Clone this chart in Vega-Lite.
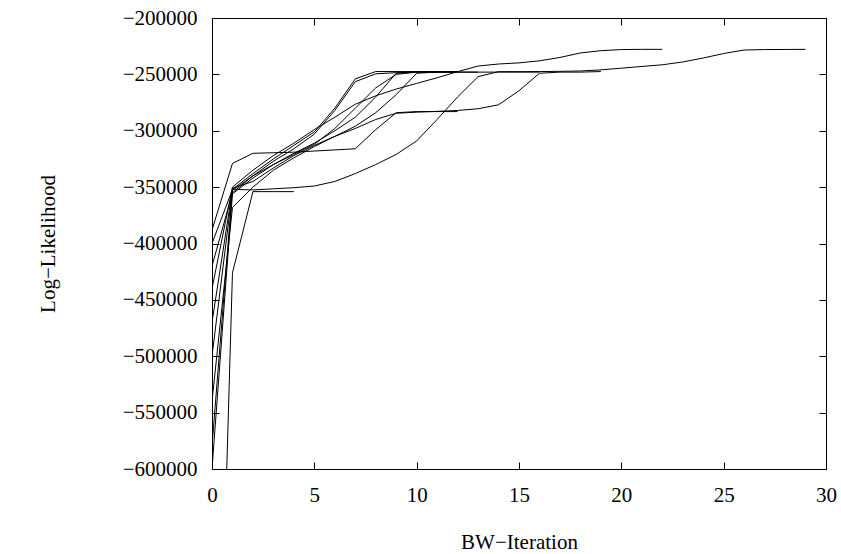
{
  "$schema": "https://vega.github.io/schema/vega-lite/v6.json",
  "autosize": {"type": "none"},
  "padding": {"left": 212, "top": 18, "right": 15, "bottom": 85},
  "width": 614,
  "height": 451,
  "background": "white",
  "config": {
    "view": {"stroke": "black", "strokeWidth": 1},
    "axis": {
      "domain": false, "grid": false, "tickColor": "black", "tickSize": -7, "labelFlush": false,
      "labelColor": "black", "labelFont": "Liberation Serif", "labelFontSize": 21,
      "titleFont": "Liberation Serif", "titleFontSize": 21, "titleFontWeight": "normal", "titleColor": "black"
    }
  },
  "datasets": {
    "runs": [
      {"s": "A", "x": 0, "v": -1050000}, {"s": "A", "x": 1, "v": -426000}, {"s": "A", "x": 2, "v": -354000}, {"s": "A", "x": 3, "v": -354000}, {"s": "A", "x": 4, "v": -354000},

      {"s": "T29", "x": 0, "v": -470000}, {"s": "T29", "x": 1, "v": -352000}, {"s": "T29", "x": 2, "v": -352500}, {"s": "T29", "x": 3, "v": -351500}, {"s": "T29", "x": 4, "v": -350500}, {"s": "T29", "x": 5, "v": -349000}, {"s": "T29", "x": 6, "v": -345000}, {"s": "T29", "x": 7, "v": -338000}, {"s": "T29", "x": 8, "v": -330000}, {"s": "T29", "x": 9, "v": -321000}, {"s": "T29", "x": 10, "v": -309000}, {"s": "T29", "x": 11, "v": -290000}, {"s": "T29", "x": 12, "v": -270000}, {"s": "T29", "x": 13, "v": -252000}, {"s": "T29", "x": 14, "v": -247600}, {"s": "T29", "x": 15, "v": -247600}, {"s": "T29", "x": 16, "v": -247500}, {"s": "T29", "x": 17, "v": -247300}, {"s": "T29", "x": 18, "v": -247000}, {"s": "T29", "x": 19, "v": -246000}, {"s": "T29", "x": 20, "v": -244500}, {"s": "T29", "x": 21, "v": -243000}, {"s": "T29", "x": 22, "v": -241500}, {"s": "T29", "x": 23, "v": -239000}, {"s": "T29", "x": 24, "v": -235500}, {"s": "T29", "x": 25, "v": -231500}, {"s": "T29", "x": 26, "v": -228400}, {"s": "T29", "x": 27, "v": -228000}, {"s": "T29", "x": 28, "v": -227900}, {"s": "T29", "x": 29, "v": -227800},

      {"s": "T22", "x": 0, "v": -440000}, {"s": "T22", "x": 1, "v": -350000}, {"s": "T22", "x": 2, "v": -335000}, {"s": "T22", "x": 3, "v": -322000}, {"s": "T22", "x": 4, "v": -311000}, {"s": "T22", "x": 5, "v": -299000}, {"s": "T22", "x": 6, "v": -288000}, {"s": "T22", "x": 7, "v": -276500}, {"s": "T22", "x": 8, "v": -269000}, {"s": "T22", "x": 9, "v": -263000}, {"s": "T22", "x": 10, "v": -258000}, {"s": "T22", "x": 11, "v": -253000}, {"s": "T22", "x": 12, "v": -247600}, {"s": "T22", "x": 13, "v": -242600}, {"s": "T22", "x": 14, "v": -240800}, {"s": "T22", "x": 15, "v": -239800}, {"s": "T22", "x": 16, "v": -238000}, {"s": "T22", "x": 17, "v": -235000}, {"s": "T22", "x": 18, "v": -231000}, {"s": "T22", "x": 19, "v": -229000}, {"s": "T22", "x": 20, "v": -228000}, {"s": "T22", "x": 21, "v": -227800}, {"s": "T22", "x": 22, "v": -227800},

      {"s": "F1", "x": 0, "v": -400000}, {"s": "F1", "x": 1, "v": -352000}, {"s": "F1", "x": 2, "v": -338000}, {"s": "F1", "x": 3, "v": -325000}, {"s": "F1", "x": 4, "v": -313000}, {"s": "F1", "x": 5, "v": -301000}, {"s": "F1", "x": 6, "v": -280000}, {"s": "F1", "x": 7, "v": -254000}, {"s": "F1", "x": 8, "v": -247500}, {"s": "F1", "x": 9, "v": -247500}, {"s": "F1", "x": 10, "v": -247500}, {"s": "F1", "x": 11, "v": -247500}, {"s": "F1", "x": 12, "v": -247500},

      {"s": "F2", "x": 0, "v": -420000}, {"s": "F2", "x": 1, "v": -355000}, {"s": "F2", "x": 2, "v": -340000}, {"s": "F2", "x": 3, "v": -327000}, {"s": "F2", "x": 4, "v": -316000}, {"s": "F2", "x": 5, "v": -303000}, {"s": "F2", "x": 6, "v": -282000}, {"s": "F2", "x": 7, "v": -256500}, {"s": "F2", "x": 8, "v": -249500}, {"s": "F2", "x": 9, "v": -248500}, {"s": "F2", "x": 10, "v": -248000}, {"s": "F2", "x": 11, "v": -248000}, {"s": "F2", "x": 12, "v": -248000}, {"s": "F2", "x": 13, "v": -248000}, {"s": "F2", "x": 14, "v": -248000}, {"s": "F2", "x": 15, "v": -248000}, {"s": "F2", "x": 16, "v": -248000},

      {"s": "M1", "x": 0, "v": -600000}, {"s": "M1", "x": 1, "v": -356000}, {"s": "M1", "x": 2, "v": -342000}, {"s": "M1", "x": 3, "v": -330000}, {"s": "M1", "x": 4, "v": -320000}, {"s": "M1", "x": 5, "v": -311000}, {"s": "M1", "x": 6, "v": -300000}, {"s": "M1", "x": 7, "v": -288000}, {"s": "M1", "x": 8, "v": -270000}, {"s": "M1", "x": 9, "v": -249000}, {"s": "M1", "x": 10, "v": -248000}, {"s": "M1", "x": 11, "v": -248000}, {"s": "M1", "x": 12, "v": -248000}, {"s": "M1", "x": 13, "v": -248000},

      {"s": "M2", "x": 0, "v": -540000}, {"s": "M2", "x": 1, "v": -368000}, {"s": "M2", "x": 2, "v": -350000}, {"s": "M2", "x": 3, "v": -335000}, {"s": "M2", "x": 4, "v": -324000}, {"s": "M2", "x": 5, "v": -314000}, {"s": "M2", "x": 6, "v": -305000}, {"s": "M2", "x": 7, "v": -296000}, {"s": "M2", "x": 8, "v": -284000}, {"s": "M2", "x": 9, "v": -268000}, {"s": "M2", "x": 10, "v": -249000}, {"s": "M2", "x": 11, "v": -248000}, {"s": "M2", "x": 12, "v": -248000},

      {"s": "R", "x": 0, "v": -388000}, {"s": "R", "x": 1, "v": -329000}, {"s": "R", "x": 2, "v": -320000}, {"s": "R", "x": 3, "v": -319500}, {"s": "R", "x": 4, "v": -319000}, {"s": "R", "x": 5, "v": -318000}, {"s": "R", "x": 6, "v": -317000}, {"s": "R", "x": 7, "v": -316000}, {"s": "R", "x": 8, "v": -299000}, {"s": "R", "x": 9, "v": -284000}, {"s": "R", "x": 10, "v": -283000}, {"s": "R", "x": 11, "v": -283000}, {"s": "R", "x": 12, "v": -283000},

      {"s": "Q", "x": 0, "v": -580000}, {"s": "Q", "x": 1, "v": -351000}, {"s": "Q", "x": 2, "v": -345000}, {"s": "Q", "x": 3, "v": -333000}, {"s": "Q", "x": 4, "v": -322000}, {"s": "Q", "x": 5, "v": -313000}, {"s": "Q", "x": 6, "v": -305000}, {"s": "Q", "x": 7, "v": -298000}, {"s": "Q", "x": 8, "v": -290000}, {"s": "Q", "x": 9, "v": -284500}, {"s": "Q", "x": 10, "v": -283500}, {"s": "Q", "x": 11, "v": -282800}, {"s": "Q", "x": 12, "v": -282000}, {"s": "Q", "x": 13, "v": -280500}, {"s": "Q", "x": 14, "v": -277000}, {"s": "Q", "x": 15, "v": -264500}, {"s": "Q", "x": 16, "v": -249000}, {"s": "Q", "x": 17, "v": -248000}, {"s": "Q", "x": 18, "v": -248000}, {"s": "Q", "x": 19, "v": -247500},

      {"s": "P", "x": 0, "v": -500000}, {"s": "P", "x": 1, "v": -353000}, {"s": "P", "x": 2, "v": -340000}, {"s": "P", "x": 3, "v": -330000}, {"s": "P", "x": 4, "v": -321000}, {"s": "P", "x": 5, "v": -312000}, {"s": "P", "x": 6, "v": -298000}, {"s": "P", "x": 7, "v": -280000}, {"s": "P", "x": 8, "v": -262000}, {"s": "P", "x": 9, "v": -250000}, {"s": "P", "x": 10, "v": -248000}, {"s": "P", "x": 11, "v": -248000}
    ]
  },
  "data": {"name": "runs"},
  "layer": [
    {
      "mark": {"type": "line", "color": "black", "strokeWidth": 1, "clip": true},
      "encoding": {
        "x": {"field": "x", "type": "quantitative", "scale": {"domain": [0, 30], "nice": false},
          "axis": {"orient": "bottom", "values": [0, 5, 10, 15, 20, 25, 30], "title": "BW−Iteration", "labelPadding": 22, "titlePadding": 26}},
        "y": {"field": "v", "type": "quantitative", "scale": {"domain": [-600000, -200000], "nice": false, "zero": false},
          "axis": {"orient": "left", "values": [-600000, -550000, -500000, -450000, -400000, -350000, -300000, -250000, -200000], "format": "d", "title": "Log−Likelihood", "labelPadding": 22, "titlePadding": 64}},
        "detail": {"field": "s"}
      }
    },
    {
      "mark": {"type": "line", "opacity": 0},
      "encoding": {
        "x": {"field": "x", "type": "quantitative", "axis": {"orient": "top", "values": [0, 5, 10, 15, 20, 25, 30], "labels": false, "title": null}},
        "y": {"field": "v", "type": "quantitative", "axis": {"orient": "right", "values": [-600000, -550000, -500000, -450000, -400000, -350000, -300000, -250000, -200000], "labels": false, "title": null}},
        "detail": {"field": "s"}
      }
    }
  ],
  "resolve": {"axis": {"x": "independent", "y": "independent"}}
}
